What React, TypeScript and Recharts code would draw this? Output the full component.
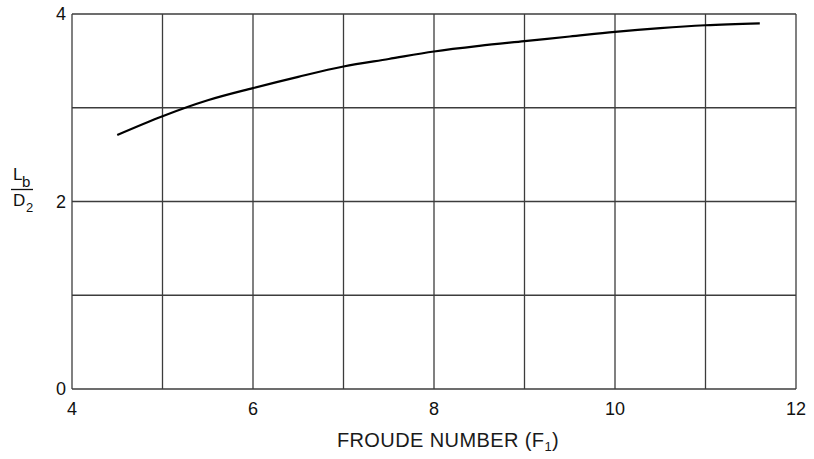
import React from 'react'
import { LineChart, Line, XAxis, YAxis, CartesianGrid, Label } from 'recharts'

const froude = [4.5, 5, 5.5, 6, 6.5, 7, 7.5, 8, 8.5, 9, 9.5, 10, 10.5, 11, 11.6]
const lengthRatio = [2.71, 2.91, 3.08, 3.21, 3.33, 3.44, 3.52, 3.6, 3.66, 3.71, 3.76, 3.81, 3.85, 3.88, 3.9]
const xTicks = [4, 5, 6, 7, 8, 9, 10, 11, 12]
const yTicks = [0, 1, 2, 3, 4]

const data = froude.map((f, i) => ({ f, ratio: lengthRatio[i] }))

const FONT = '"Liberation Sans", Arial, sans-serif'
const GRID = '#3c3c3c'

function YTitle() {
    return (
        <g fontFamily={FONT} fill="#111">
            <text x={13} y={180} fontSize={17}>L</text>
            <text x={22} y={187} fontSize={15}>b</text>
            <line x1={11} x2={33} y1={189.5} y2={189.5} stroke="#111" strokeWidth={1.3} />
            <text x={13} y={206} fontSize={17}>D</text>
            <text x={26} y={212} fontSize={13}>2</text>
        </g>
    )
}

function XTitle() {
    return (
        <text x={448} y={447} textAnchor="middle" fontFamily={FONT} fontSize={20} letterSpacing={0.4} fill="#1a1a1a">
            FROUDE NUMBER (F
            <tspan fontSize={13} dy={4}>1</tspan>
            <tspan dy={-4}>)</tspan>
        </text>
    )
}

export default function App() {
    return (
        <div style={{ position: 'absolute', left: 0, top: 0, width: 814, height: 459, background: '#fff' }}>
            <LineChart width={814} height={459} data={data} margin={{ top: 14, right: 18, left: 0, bottom: 0 }}>
                <CartesianGrid stroke={GRID} strokeWidth={1.3} />
                <XAxis
                    dataKey="f"
                    type="number"
                    domain={[4, 12]}
                    ticks={xTicks}
                    height={70}
                    axisLine={false}
                    tickLine={false}
                    tickSize={0}
                    tickMargin={13}
                    tickFormatter={(v: number) => (v % 2 === 0 ? String(v) : '')}
                    tick={{ fill: '#111', fontSize: 18, fontFamily: FONT }}
                >
                    <Label content={() => <XTitle />} />
                </XAxis>
                <YAxis
                    type="number"
                    domain={[0, 4]}
                    ticks={yTicks}
                    width={72}
                    axisLine={false}
                    tickLine={false}
                    tickSize={0}
                    tickMargin={6}
                    tickFormatter={(v: number) => (v % 2 === 0 ? String(v) : '')}
                    tick={{ fill: '#111', fontSize: 18, fontFamily: FONT }}
                >
                    <Label content={() => <YTitle />} />
                </YAxis>
                <Line
                    type="monotone"
                    dataKey="ratio"
                    stroke="#000"
                    strokeWidth={2.2}
                    dot={false}
                    isAnimationActive={false}
                />
            </LineChart>
        </div>
    )
}
